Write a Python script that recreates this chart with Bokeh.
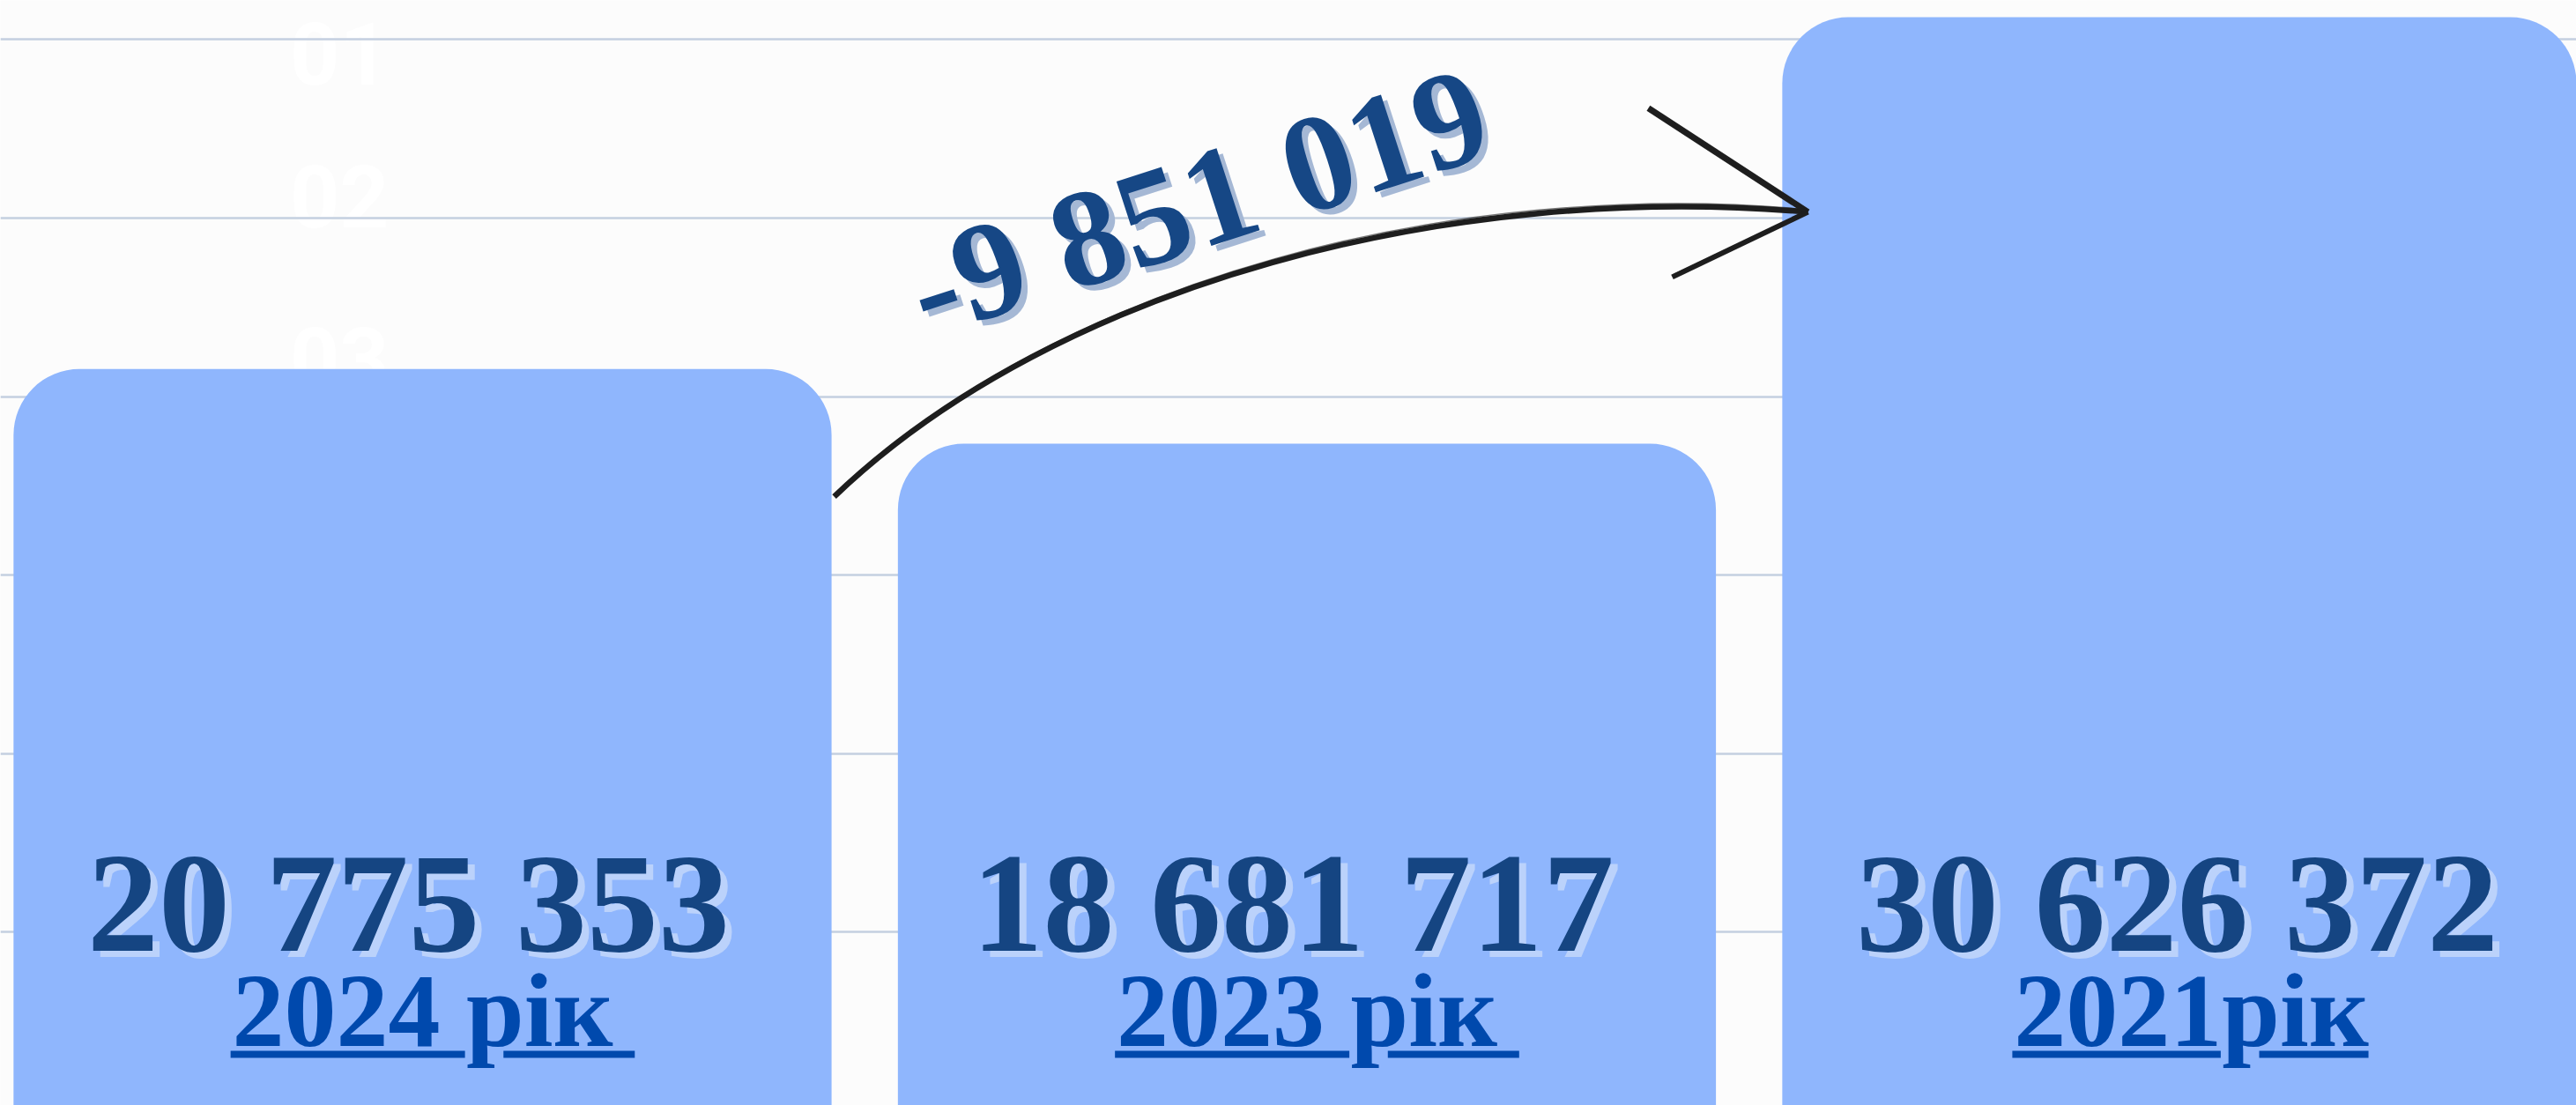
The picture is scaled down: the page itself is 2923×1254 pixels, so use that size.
from bokeh.plotting import figure
from bokeh.models import Range1d, FixedTicker, Grid
from bokeh.embed import file_html
from bokeh.resources import INLINE
from bokeh.core.properties import value

# ---------------- data ----------------
years = ["2024 рік", "2023 рік", "2021рік"]
amounts = [20775353, 18681717, 30626372]
grid_values = [5e6, 10e6, 15e6, 20e6, 25e6, 30e6]
step_labels = ["01", "02", "03"]
step_values = [29.62e6, 25.62e6, 21.08e6]

# ---------------- layout constants ----------------
W, H = 2923, 1254
BAR_W = 0.925
PX_X = 1003.5          # pixels per x unit
xs = list(range(len(amounts)))

def fmt(v):
    return f"{v:,}".replace(",", " ")

value_texts = [fmt(v) for v in amounts]
diff = amounts[0] - amounts[2]
diff_text = fmt(diff)

p = figure(width=W, height=H, output_backend="svg", toolbar_location=None,
           x_range=Range1d(-0.4773, 2.4355), y_range=Range1d(0.148e6, 31.096e6),
           x_axis_location=None, y_axis_location=None,
           min_border=0, background_fill_color="#fcfcfc", border_fill_color="#fcfcfc",
           outline_line_color=None)
p.xgrid.visible = False
p.ygrid.visible = False
p.add_layout(Grid(dimension=1, ticker=FixedTicker(ticks=grid_values),
                  grid_line_color="#c4cfe0", grid_line_width=2.5))

# faint step numbers behind the grid
r = p.text(x=[-0.094] * 3, y=step_values, text=step_labels,
           text_font=value("Roboto"), text_font_style="bold", text_font_size="98px",
           text_color="#ffffff", text_align="center", text_baseline="middle")
r.level = "image"

# bars
p.vbar(x=xs, top=amounts, bottom=0, width=BAR_W, fill_color="#8FB6FD",
       line_color=None, border_radius=(75, 75, 0, 0))

# value labels with shadow
LABEL_Y = 5.824e6
VFS = "162px"
p.text(x=xs, y=[LABEL_Y] * 3, text=value_texts, x_offset=-8, y_offset=7,
       text_font=value("Liberation Serif"), text_font_style="bold", text_font_size=VFS,
       text_color="#BBD2FB", text_align="center", text_baseline="middle")
p.text(x=xs, y=[LABEL_Y] * 3, text=value_texts, x_offset=-16,
       text_font=value("Liberation Serif"), text_font_style="bold", text_font_size=VFS,
       text_color="#154582", text_align="center", text_baseline="middle")

# year labels with underline
YEAR_Y = 2.789e6
UL_Y = 1.579e6
YFS = 118
p.text(x=xs, y=[YEAR_Y] * 3, text=years,
       text_font=value("Liberation Serif"), text_font_style="bold", text_font_size=f"{YFS}px",
       text_color="#0049AD", text_align="center", text_baseline="middle")

em = {"0": .5, "1": .5, "2": .5, "3": .5, "4": .5, " ": .25, "р": .556, "і": .278, "к": .54}
x0s, x1s = [], []
for xc, t in zip(xs, years):
    w = sum(em.get(c, .5) for c in t) * YFS / PX_X
    start = xc - w / 2 - 4 / PX_X
    end = xc + w / 2 + (27 if " " in t else 2) / PX_X
    pstart = xc - w / 2 + sum(em.get(c, .5) for c in t[:t.index("р")]) * YFS / PX_X
    x0s += [start, pstart + 0.34 * YFS / PX_X]
    x1s += [pstart - 0.03 * YFS / PX_X, end]
p.segment(x0=x0s, y0=[UL_Y] * len(x0s), x1=x1s, y1=[UL_Y] * len(x0s),
          line_color="#0049AD", line_width=8)

# hand-drawn arrow from 2024 bar to 2021 bar
ax0 = xs[0] + BAR_W / 2 + 0.003
ax3 = xs[2] - BAR_W / 2 + 0.029
p.bezier(x0=[ax0], y0=[17.20e6], x1=[ax3], y1=[25.17e6],
         cx0=[0.7185], cy0=[23.20e6], cx1=[1.1669], cy1=[26.03e6],
         line_color="#1e1e1e", line_width=6.5)
p.bezier(x0=[ax0 + 0.004], y0=[17.32e6], x1=[ax3 - 0.01], y1=[25.26e6],
         cx0=[0.725], cy0=[23.34e6], cx1=[1.17], cy1=[26.10e6],
         line_color="#1e1e1e", line_width=1.5, line_alpha=0.6)
p.segment(x0=[1.3861, 1.4131], y0=[28.08e6, 23.35e6], x1=[ax3, ax3], y1=[25.17e6, 25.17e6],
          line_color="#1e1e1e", line_width=[7, 6])
p.segment(x0=[1.3881, 1.4151], y0=[28.02e6, 23.42e6], x1=[ax3, ax3], y1=[25.20e6, 25.20e6],
          line_color="#1e1e1e", line_width=1.5, line_alpha=0.6)

# difference label
DFS = "157px"
p.text(x=[0.876], y=[25.47e6], text=[diff_text], x_offset=7, y_offset=6, angle=18, angle_units="deg",
       text_font=value("Liberation Serif"), text_font_style="bold", text_font_size=DFS,
       text_color="#A5B8D5", text_align="center", text_baseline="middle")
p.text(x=[0.876], y=[25.47e6], text=[diff_text], angle=18, angle_units="deg",
       text_font=value("Liberation Serif"), text_font_style="bold", text_font_size=DFS,
       text_color="#164785", text_align="center", text_baseline="middle")

open("out.html", "w").write(file_html(p, INLINE))
